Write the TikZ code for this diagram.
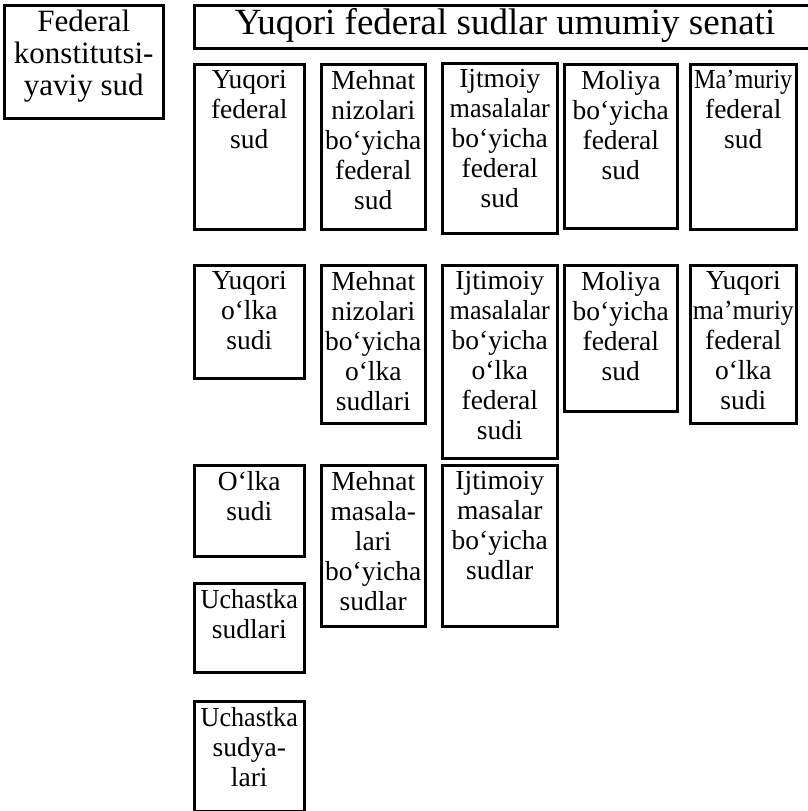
\documentclass[tikz,border=0pt]{standalone}
\usepackage{fontspec}
\setmainfont{Liberation Serif}
\usepackage{graphicx}
\tikzset{
  cell/.style={draw, line width=2.5pt, inner sep=0pt, anchor=north west},
  celltext/.style={font=\fontsize{27.5}{30}\selectfont, align=center, inner sep=0pt, anchor=north},
}
\newcommand\cnd[2][0.85]{\scalebox{#1}[1]{#2}}
\newcommand\court[6]{%
  \node[cell, minimum width={(#4-#2)*1pt}, minimum height={(#5-#3)*1pt}] (#1) at (#2,#3) {};
  \node[celltext] (#1t) at ([yshift=-7pt]#1.north) {#6};
}
\begin{document}
\begin{tikzpicture}[x=1pt,y=-1pt]
\useasboundingbox (0,0) rectangle (807,811);
% Federal constitutional court
\node[cell, minimum width=159pt, minimum height=113pt] (fks) at (3,4) {};
\node[celltext, font=\fontsize{31}{32}\selectfont] (fkst) at ([yshift=-6pt]fks.north) {Federal\\konstitutsi-\\yaviy sud};
% senate
\node[cell, minimum width=620pt, minimum height=43pt] (sen) at (193,4) {};
\node[inner sep=0pt, font=\fontsize{37}{40}\selectfont, anchor=center] (sent) at ([yshift=1pt]sen.center -| 505,0) {Yuqori federal sudlar umumiy senati};
% row 1
\court{ra}{193}{63}{303}{228}{Yuqori\\federal\\sud}
\court{rb}{320}{63}{424}{228}{Mehnat\\nizolari\\bo‘yicha\\federal\\sud}
\court{rc}{441}{62}{556}{232}{Ijtmoiy\\\cnd[0.95]{masalalar}\\bo‘yicha\\federal\\sud}
\court{rd}{563}{63}{676}{227}{Moliya\\bo‘yicha\\federal\\sud}
\court{re}{689}{63}{795}{228}{\cnd[0.88]{Ma’muriy}\\federal\\sud}
% row 2
\court{sa}{193}{264}{303}{377}{Yuqori\\o‘lka\\sudi}
\court{sb}{320}{264}{424}{422}{Mehnat\\nizolari\\bo‘yicha\\o‘lka\\sudlari}
\court{sc}{441}{264}{556}{457}{Ijtimoiy\\\cnd[0.95]{masalalar}\\bo‘yicha\\o‘lka\\federal\\sudi}
\court{sd}{563}{264}{676}{410}{Moliya\\bo‘yicha\\federal\\sud}
\court{se}{689}{264}{795}{422}{Yuqori\\\cnd[0.93]{ma’muriy}\\federal\\o‘lka\\sudi}
% row 3
\court{ta}{193}{464}{303}{555}{O‘lka\\sudi}
\court{tb}{320}{464}{424}{625}{Mehnat\\masala-\\lari\\bo‘yicha\\sudlar}
\court{tc}{441}{464}{556}{625}{Ijtimoiy\\masalar\\bo‘yicha\\sudlar}
% rows 4-5
\court{ua}{193}{582}{303}{671}{\cnd[0.95]{Uchastka}\\sudlari}
\court{va}{193}{700}{303}{810}{\cnd[0.95]{Uchastka}\\sudya-\\lari}
\end{tikzpicture}
\end{document}
